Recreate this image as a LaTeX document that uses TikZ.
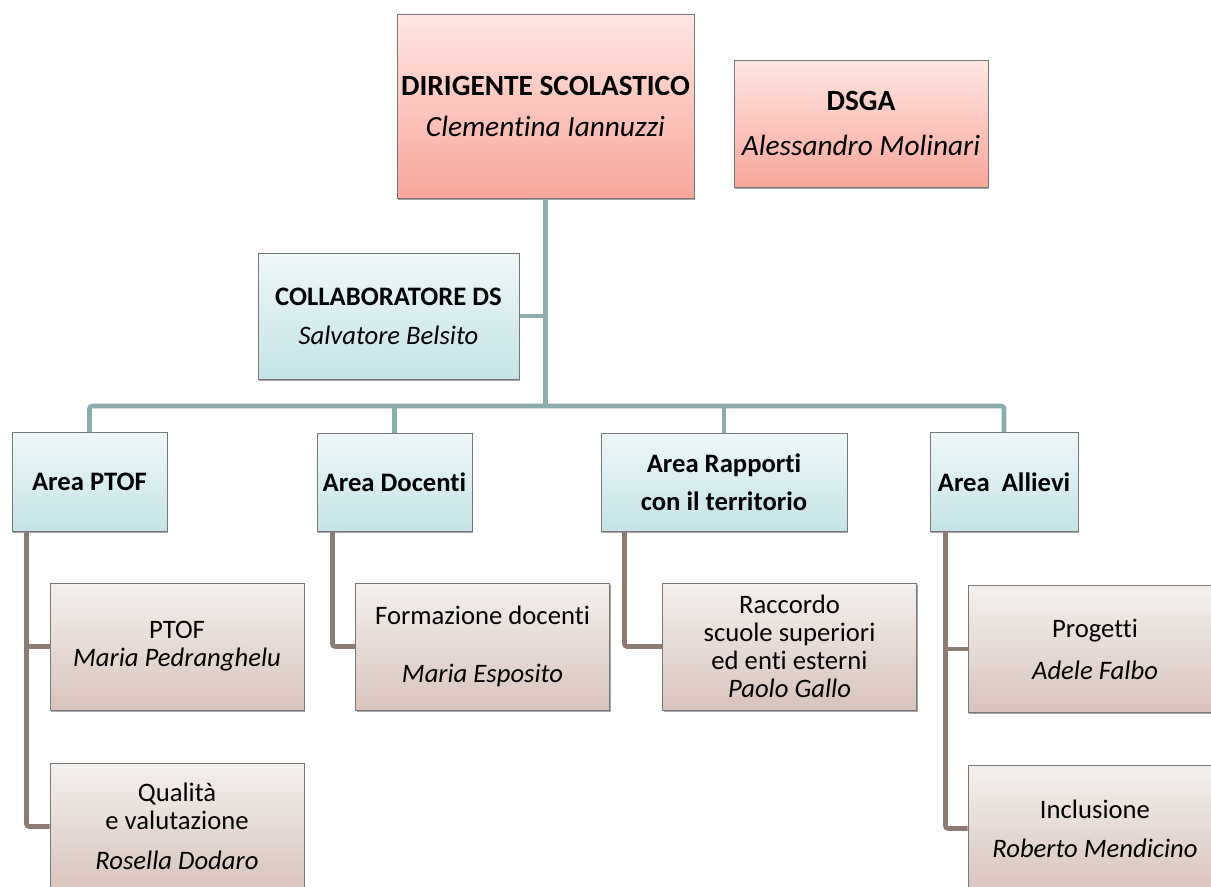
\documentclass[tikz,border=0pt]{standalone}
\usepackage{fontspec}
\setmainfont{Carlito}[RawFeature={-liga;-clig;-dlig;-calt}]
\usetikzlibrary{shadows}

\definecolor{redtop}{RGB}{255,230,226}
\definecolor{redbot}{RGB}{248,166,155}
\definecolor{bluetop}{RGB}{239,248,249}
\definecolor{bluebot}{RGB}{196,227,230}
\definecolor{browntop}{RGB}{244,240,237}
\definecolor{brownbot}{RGB}{216,196,188}
\definecolor{tealcol}{RGB}{139,174,173}
\definecolor{browncol}{RGB}{140,123,112}
\definecolor{boxborder}{RGB}{120,120,120}

\tikzset{
  box/.style={draw=boxborder, line width=0.75pt, align=center, inner sep=0pt,
    font=\fontsize{20}{21}\selectfont,
    drop shadow={shadow xshift=1pt, shadow yshift=-1.3pt, opacity=0.35, fill=black}},
  headbox/.style={box, top color=redtop, bottom color=redbot, font=\fontsize{22}{24}\selectfont},
  areabox/.style={box, top color=bluetop, bottom color=bluebot},
  taskbox/.style={box, top color=browntop, bottom color=brownbot,
    minimum width=190.5pt, minimum height=95.25pt},
  orgline/.style={draw=tealcol, line width=3.5pt},
  subline/.style={draw=browncol, line width=3.5pt},
}

\begin{document}
\begin{tikzpicture}[x=0.75pt,y=0.75pt,yscale=-1,xscale=1]
        \path[use as bounding box, clip] (0,0) rectangle (1211,886);

        %Shape: Rectangle [top]
        \node[headbox, minimum width=222.75pt, minimum height=138pt] (ds) at (545.5,106)
            {\textbf{DIRIGENTE SCOLASTICO}\\[6.75pt]\textit{Clementina Iannuzzi}};
        %Shape: Rectangle [dsga]
        \node[headbox, minimum width=190.5pt, minimum height=95.25pt] (dsga) at (861,123.5)
            {\textbf{DSGA}\\[9.75pt]\textit{Alessandro Molinari}};
        %Shape: Rectangle [collaboratore]
        \node[areabox, minimum width=195.75pt, minimum height=94.5pt] (collab) at (388.5,316)
            {\textbf{COLLABORATORE DS}\\[8.25pt]\textit{Salvatore Belsito}};

        %Shape: Rectangle [aree]
        \node[areabox, minimum width=116.25pt, minimum height=74.25pt] (aptof) at (89.5,482) {\textbf{Area PTOF}};
        \node[areabox, minimum width=116.25pt, minimum height=73.5pt] (adoc) at (394.5,482) {\textbf{Area Docenti}};
        \node[areabox, minimum width=184.5pt, minimum height=73.5pt] (arap) at (724,482)
            {\textbf{Area Rapporti}\\[7.5pt]\textbf{con il territorio}};
        \node[areabox, minimum width=111pt, minimum height=74.25pt] (aall) at (1004,482) {\textbf{Area\ \ Allievi}};

        %Shape: Rectangle [funzioni]
        \node[taskbox] (ptof) at (177,646.5) {PTOF\\ \textit{Maria Pedranghelu}};
        \node[taskbox] (qual) at (177,826.5) {Qualità\\ e valutazione\\[9pt]\textit{Rosella Dodaro}};
        \node[taskbox] (form) at (482.5,646.5) {Formazione docenti\\[23pt]\textit{Maria Esposito}};
        \node[taskbox] (racc) at (789.5,646.5) {Raccordo\\ scuole superiori\\ ed enti esterni\\ \textit{Paolo Gallo}};
        \node[taskbox] (prog) at (1095,649) {Progetti\\[10.5pt]\textit{Adele Falbo}};
        \node[taskbox] (incl) at (1095,828.5) {Inclusione\\[8pt]\textit{Roberto Mendicino}};

        %Straight Lines [organigramma]
        \coordinate (bus) at (545.5,406);
        \draw[orgline] (ds.south) -- (bus);
        \draw[orgline] (collab.east) -- (collab.east -| ds.south);
        \draw[orgline, rounded corners=2pt] (aptof.north) |- (bus) -| (aall.north);
        \draw[orgline] (adoc.north) -- (adoc.north |- bus);
        \draw[orgline] (arap.north) -- (arap.north |- bus);

        %Straight Lines [funzioni]
        \coordinate (ptofdrop) at ([xshift=11.25pt]aptof.south west);
        \coordinate (docdrop) at ([xshift=12pt]adoc.south west);
        \coordinate (rapdrop) at ([xshift=18pt]arap.south west);
        \coordinate (alldrop) at ([xshift=12pt]aall.south west);
        \draw[subline, rounded corners=2pt] (ptofdrop) |- (qual.west);
        \draw[subline] (ptofdrop |- ptof.west) -- (ptof.west);
        \draw[subline, rounded corners=2pt] (docdrop) |- (form.west);
        \draw[subline, rounded corners=2pt] (rapdrop) |- (racc.west);
        \draw[subline, rounded corners=2pt] (alldrop) |- (incl.west);
        \draw[subline] (alldrop |- prog.west) -- (prog.west);

\end{tikzpicture}
\end{document}
